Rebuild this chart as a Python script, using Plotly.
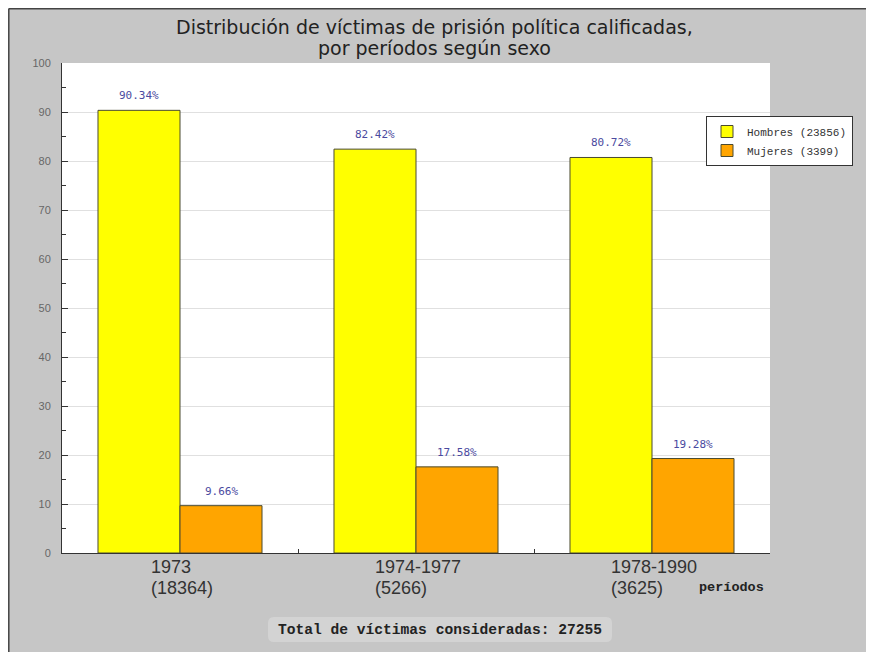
import plotly.graph_objects as go

# ---- data ----
periods = ["1973", "1974-1977", "1978-1990"]
period_totals = [18364, 5266, 3625]
hombres_pct = [90.34, 82.42, 80.72]
mujeres_pct = [9.66, 17.58, 19.28]
hombres_total = 23856
mujeres_total = 3399
total_victimas = 27255
y_ticks = [0, 10, 20, 30, 40, 50, 60, 70, 80, 90, 100]
title_lines = ["Distribución de víctimas de prisión política calificadas,",
               "por períodos según sexo"]

OFF = 8  # page body margin
W, H = 874 - OFF, 652 - OFF
# plot area in screenshot px
SL, SR, ST, SB = 62, 770, 63, 553
L, R, T, B = SL - OFF, SR - OFF, ST - OFF, SB - OFF


def xp(sx):
    return (sx - SL) / (SR - SL)


def yp(sy):
    return (SB - sy) / (SB - ST)


def text_w(s, size):
    w = {"-": 0.333, "(": 0.333, ")": 0.333}
    return sum(w.get(c, 0.556) for c in s) * size


fig = go.Figure()
fig.add_trace(go.Bar(
    x=periods, y=hombres_pct, name=f"Hombres ({hombres_total})",
    marker=dict(color="#FFFF00", line=dict(color="#4a4a30", width=1)),
))
fig.add_trace(go.Bar(
    x=periods, y=mujeres_pct, name=f"Mujeres ({mujeres_total})",
    marker=dict(color="#FFA500", line=dict(color="#4a4a30", width=1)),
))

annotations = []
# value labels above bars (x given as category index)
for i, p in enumerate(periods):
    for val, shift in ((hombres_pct[i], -41), (mujeres_pct[i], 41)):
        annotations.append(dict(
            x=i, y=val, xref="x", yref="y", xshift=shift, yshift=6,
            text=f"{val:.2f}%", showarrow=False, yanchor="bottom",
            font=dict(family="DejaVu Sans Mono", size=11, color="#4a4aa0"),
        ))
# category labels: two lines, left-aligned block centred on the category
LBL_SIZE = 18
for i, (p, n) in enumerate(zip(periods, period_totals)):
    lines = [p, f"({n})"]
    block_w = max(text_w(s, LBL_SIZE) for s in lines)
    for s, sy in zip(lines, (567, 588)):
        annotations.append(dict(
            x=i, y=yp(sy), xref="x", yref="paper", xshift=-block_w / 2,
            text=s, showarrow=False, xanchor="left", yanchor="middle",
            font=dict(family="Liberation Sans", size=LBL_SIZE, color="#333333"),
        ))
# axis name
annotations.append(dict(
    x=xp(697), y=yp(587), xref="paper", yref="paper", xanchor="left", yanchor="middle",
    text="<b>períodos</b>", showarrow=False,
    font=dict(family="Liberation Mono", size=13.5, color="#222222"),
))
# total
annotations.append(dict(
    x=xp(440), y=yp(630), xref="paper", yref="paper", xanchor="center", yanchor="middle",
    text=f"<b>Total de víctimas consideradas: {total_victimas}</b>", showarrow=False,
    font=dict(family="Liberation Mono", size=14.6, color="#222222"),
))
# title (two lines, positioned separately)
for line, sy in zip(title_lines, (27, 48)):
    annotations.append(dict(
        x=xp(434), y=yp(sy), xref="paper", yref="paper", xanchor="center", yanchor="middle",
        text=line, showarrow=False,
        font=dict(family="DejaVu Sans", size=19, color="#222222"),
    ))

# rounded box behind total
x0, x1, y0, y1 = xp(268), xp(612), yp(642), yp(617)
rx, ry = 6 / (SR - SL), 6 / (SB - ST)
path = (f"M {x0+rx},{y0} L {x1-rx},{y0} Q {x1},{y0} {x1},{y0+ry} "
        f"L {x1},{y1-ry} Q {x1},{y1} {x1-rx},{y1} L {x0+rx},{y1} "
        f"Q {x0},{y1} {x0},{y1-ry} L {x0},{y0+ry} Q {x0},{y0} {x0+rx},{y0} Z")

shapes = [
    dict(type="line", xref="paper", yref="paper", x0=xp(8.8), x1=xp(880), y0=yp(8.8), y1=yp(8.8),
         line=dict(color="#444444", width=1.5)),
    dict(type="line", xref="paper", yref="paper", x0=xp(8.8), x1=xp(8.8), y0=yp(8.8), y1=yp(660),
         line=dict(color="#444444", width=1.5)),
    dict(type="path", xref="paper", yref="paper", path=path,
         fillcolor="#d3d3d3", line=dict(width=0), layer="below"),
]

fig.update_layout(
    width=W, height=H,
    margin=dict(l=L, r=W - R, t=T, b=H - B, pad=0),
    paper_bgcolor="#c6c6c6", plot_bgcolor="white",
    barmode="group", bargap=0.305, bargroupgap=0,
    showlegend=True,
    legend=dict(x=xp(706), y=yp(116), xanchor="left", yanchor="top",
                bgcolor="white", bordercolor="#333333", borderwidth=1,
                font=dict(family="Liberation Mono", size=11, color="#333333"),
                tracegroupgap=0),
    annotations=annotations, shapes=shapes,
    xaxis=dict(type="category", range=[-0.5, len(periods) - 0.5], showticklabels=False,
               showline=True, linecolor="#333333",
               linewidth=1, ticks="inside", ticklen=4, tickcolor="#333333",
               tickson="boundaries", showgrid=False, fixedrange=True),
    yaxis=dict(range=[0, 100], tickvals=y_ticks, showline=True, linecolor="#333333",
               linewidth=1, ticks="inside", ticklen=6, tickcolor="#333333",
               minor=dict(dtick=5, ticks="inside", ticklen=4, tickcolor="#333333", showgrid=False),
               showgrid=True, gridcolor="#e0e0e0", gridwidth=1, zeroline=False,
               tickfont=dict(family="Liberation Sans", size=11, color="#666666"),
               ticklabelstandoff=8, fixedrange=True),
)

fig.write_html("out.html")
